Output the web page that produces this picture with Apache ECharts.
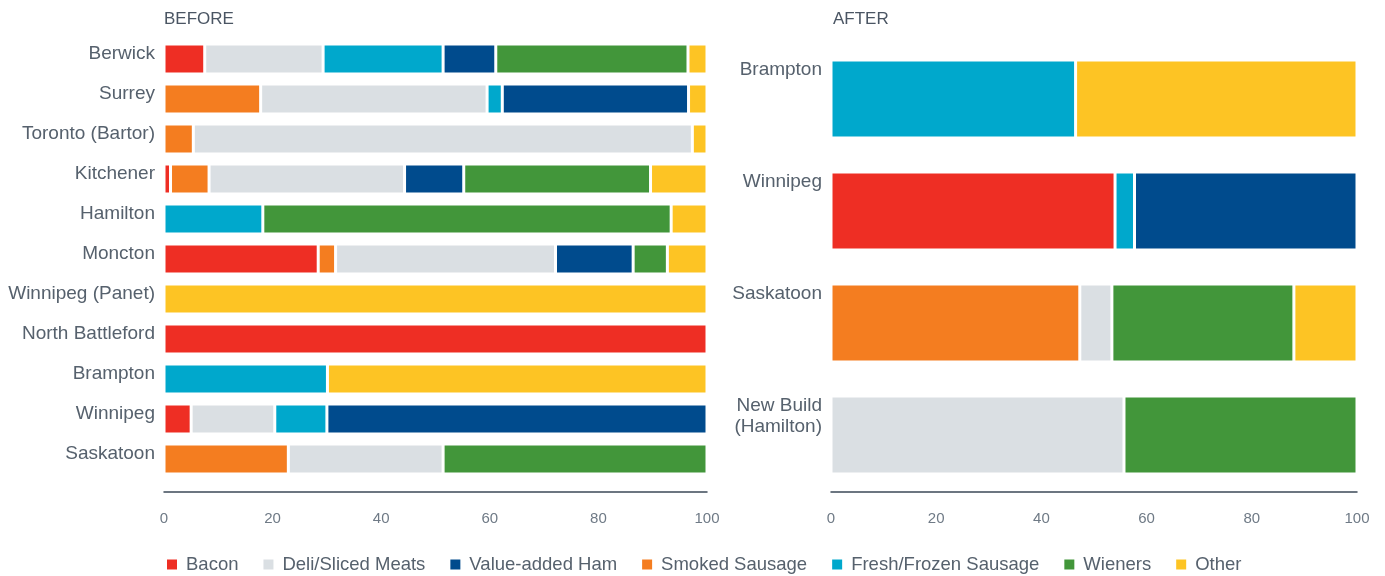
<!DOCTYPE html>
<html>
<head>
<meta charset="utf-8">
<script src="https://cdn.jsdelivr.net/npm/echarts@6/dist/echarts.min.js"></script>
<style>
  html, body { margin: 0; padding: 0; background: #fff; }
  #main { width: 1385px; height: 576px; }
</style>
</head>
<body>
<div id="main"></div>
<script>
const chartDom = document.getElementById('main');
const myChart = echarts.init(chartDom);

// categories
const beforeSites = ['Berwick', 'Surrey', 'Toronto (Bartor)', 'Kitchener', 'Hamilton', 'Moncton',
  'Winnipeg (Panet)', 'North Battleford', 'Brampton', 'Winnipeg', 'Saskatoon'];
const afterSites = ['Brampton', 'Winnipeg', 'Saskatoon', 'New Build\n(Hamilton)'];

// shares (%) per product, BEFORE (same order as beforeSites)
const beforeBacon   = [7.5, 0, 0, 1.2, 0, 28.4, 0, 100, 0, 5.0, 0];
const beforeSmoked  = [0, 17.8, 5.4, 7.1, 0, 3.2, 0, 0, 0, 0, 22.9];
const beforeDeli    = [21.8, 41.7, 91.9, 36.0, 0, 40.5, 0, 0, 0, 15.4, 28.5];
const beforeFresh   = [22.1, 2.8, 0, 0, 18.2, 0, 0, 0, 30.1, 9.6, 0];
const beforeHam     = [9.7, 34.3, 0, 10.9, 0, 14.3, 0, 0, 0, 70.0, 0];
const beforeWieners = [35.4, 0, 0, 34.4, 75.2, 6.3, 0, 0, 0, 0, 48.6];
const beforeOther   = [3.5, 3.4, 2.7, 10.4, 6.6, 7.3, 100, 0, 69.9, 0, 0];

// shares (%) per product, AFTER (same order as afterSites)
const afterBacon   = [0, 54.0, 0, 0];
const afterSmoked  = [0, 0, 47.3, 0];
const afterDeli    = [0, 0, 6.1, 55.7];
const afterFresh   = [46.5, 3.7, 0, 0];
const afterHam     = [0, 42.3, 0, 0];
const afterWieners = [0, 0, 34.6, 44.3];
const afterOther   = [53.5, 0, 12.0, 0];

const xTicks = [0, 20, 40, 60, 80, 100];

const products = [
  { name: 'Bacon', color: '#ee2e24', before: beforeBacon, after: afterBacon },
  { name: 'Smoked Sausage', color: '#f47d20', before: beforeSmoked, after: afterSmoked },
  { name: 'Deli/Sliced Meats', color: '#dadfe3', before: beforeDeli, after: afterDeli },
  { name: 'Fresh/Frozen Sausage', color: '#00a8cc', before: beforeFresh, after: afterFresh },
  { name: 'Value-added Ham', color: '#004b8d', before: beforeHam, after: afterHam },
  { name: 'Wieners', color: '#42963a', before: beforeWieners, after: afterWieners },
  { name: 'Other', color: '#fdc424', before: beforeOther, after: afterOther }
];
const legendOrder = ['Bacon', 'Deli/Sliced Meats', 'Value-added Ham', 'Smoked Sausage',
  'Fresh/Frozen Sausage', 'Wieners', 'Other'];

const font = "'Liberation Sans', Arial, sans-serif";
const textColor = '#56616d';

const series = [];
products.forEach(p => {
  series.push({
    name: p.name, type: 'bar', stack: 'before', xAxisIndex: 0, yAxisIndex: 0,
    barWidth: 30, itemStyle: { color: p.color, borderColor: '#fff', borderWidth: 1.5 },
    data: p.before.map(v => v || '-')
  });
  series.push({
    name: p.name, type: 'bar', stack: 'after', xAxisIndex: 1, yAxisIndex: 1,
    barWidth: 78, itemStyle: { color: p.color, borderColor: '#fff', borderWidth: 1.5 },
    data: p.after.map(v => v || '-')
  });
});

const valueAxis = (grid, offset) => ({
  type: 'value', gridIndex: grid, min: 0, max: 100, interval: 20, offset: offset,
  splitLine: { show: false },
  axisTick: { show: false },
  axisLine: { show: true, lineStyle: { color: '#3d4a58', width: 1.5 } },
  axisLabel: {
    color: '#6f7a86', fontSize: 15, fontFamily: font, margin: 19,
    formatter: v => xTicks.includes(v) ? String(v) : ''
  }
});

const catAxis = (grid, data, shift) => ({
  type: 'category', gridIndex: grid, data: data, inverse: true,
  axisLine: { show: false }, axisTick: { show: false },
  axisLabel: {
    color: textColor, fontSize: 19, fontFamily: font, margin: 9,
    verticalAlign: 'top', lineHeight: 21, padding: [-shift, 0, 0, 0]
  }
});

const titleStyle = { color: '#4a5563', fontSize: 17, fontWeight: 'normal', fontFamily: font };

const option = {
  backgroundColor: '#fff',
  animation: false,
  title: [
    { text: 'BEFORE', left: 159, top: 6, textStyle: titleStyle },
    { text: 'AFTER', left: 828, top: 6, textStyle: titleStyle }
  ],
  legend: {
    data: legendOrder, left: 165, top: 555, padding: 0,
    itemWidth: 12, itemHeight: 12, itemGap: 23, icon: 'rect',
    textStyle: { color: textColor, fontSize: 18.5, fontFamily: font, padding: [0, 0, 0, 3] }
  },
  grid: [
    { left: 164, right: 678, top: 39, height: 440 },
    { left: 831, right: 28, top: 43, height: 448 }
  ],
  xAxis: [valueAxis(0, 13), valueAxis(1, 1)],
  yAxis: [catAxis(0, beforeSites, 16), catAxis(1, afterSites, 40)],
  series: series
};

myChart.setOption(option);
</script>
</body>
</html>
